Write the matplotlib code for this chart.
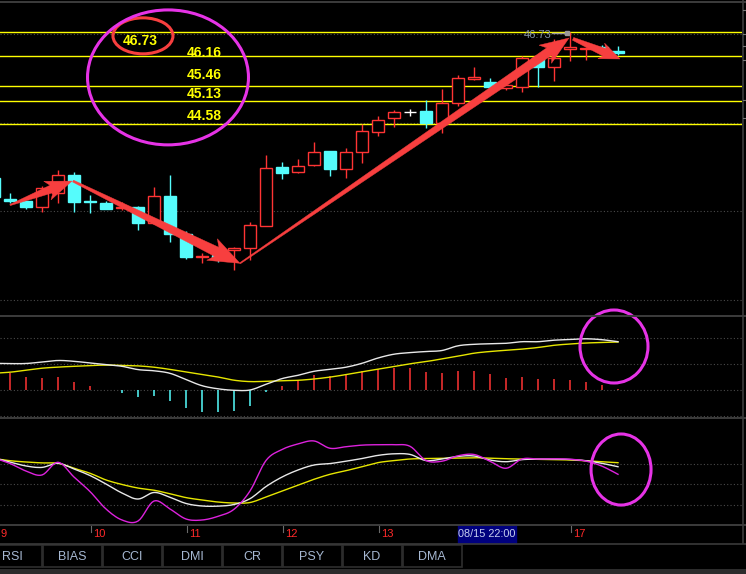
import numpy as np
import matplotlib
matplotlib.use('Agg')
import matplotlib.pyplot as plt
from matplotlib.patches import Rectangle, Ellipse, Polygon
from matplotlib.transforms import blended_transform_factory

plt.rcParams['font.family'] = ['Liberation Sans', 'DejaVu Sans']

# 4h candles, bar index -1 .. 38
bars = np.arange(-1, 39)
opens = [43.32, 42.83, 42.78, 42.64, 42.97, 43.39, 42.78, 42.74, 42.62, 42.64,
         42.27, 42.90, 42.01, 41.47, 41.52, 41.64, 41.68, 42.20, 43.58, 43.46,
         43.62, 43.95, 43.53, 43.93, 44.39, 44.72, 44.86, 44.88, 44.60, 45.07,
         45.63, 45.56, 45.42, 45.45, 46.12, 45.91, 46.33, 46.33, 46.38, 46.29]
highs = [43.39, 42.97, 42.78, 43.13, 43.51, 43.46, 42.92, 42.78, 42.76, 42.67,
         43.11, 43.39, 42.08, 41.57, 41.59, 41.71, 42.29, 43.86, 43.69, 43.76,
         44.16, 43.95, 44.02, 44.58, 44.77, 44.91, 44.93, 45.14, 45.40, 45.73,
         45.91, 45.66, 45.56, 46.17, 46.19, 46.57, 46.73, 46.38, 46.43, 46.40]
lows = [42.81, 42.74, 42.60, 42.53, 42.74, 42.53, 42.50, 42.60, 42.57, 42.10,
        42.24, 41.82, 41.43, 41.33, 41.36, 41.17, 41.40, 42.20, 43.30, 43.44,
        43.60, 43.37, 43.32, 43.67, 44.30, 44.51, 44.77, 44.49, 44.37, 45.00,
        45.61, 45.45, 45.38, 45.33, 45.45, 45.59, 46.05, 46.08, 46.26, 46.19]
closes = [42.88, 42.78, 42.64, 43.09, 43.39, 42.76, 42.76, 42.60, 42.64, 42.27,
          42.90, 42.01, 41.47, 41.50, 41.45, 41.68, 42.22, 43.55, 43.44, 43.60,
          43.93, 43.53, 43.93, 44.42, 44.67, 44.86, 44.86, 44.60, 45.07, 45.66,
          45.68, 45.45, 45.49, 46.12, 45.91, 46.12, 46.38, 46.36, 46.31, 46.24]

# MACD
dif = [0.267, 0.264, 0.265, 0.280, 0.295, 0.287, 0.270, 0.254, 0.237, 0.204,
       0.192, 0.167, 0.104, 0.043, 0.012, -0.003, 0.000, 0.057, 0.114, 0.147,
       0.187, 0.207, 0.228, 0.267, 0.320, 0.358, 0.374, 0.385, 0.395, 0.442,
       0.457, 0.462, 0.467, 0.483, 0.483, 0.498, 0.505, 0.512, 0.503, 0.483]
dea = [0.168, 0.178, 0.198, 0.218, 0.229, 0.237, 0.245, 0.249, 0.246, 0.241,
       0.228, 0.206, 0.180, 0.154, 0.130, 0.098, 0.084, 0.087, 0.093, 0.097,
       0.110, 0.129, 0.154, 0.182, 0.208, 0.235, 0.262, 0.284, 0.311, 0.338,
       0.368, 0.385, 0.397, 0.409, 0.425, 0.447, 0.460, 0.470, 0.475, 0.480]
macd_hist = [0.200, 0.173, 0.130, 0.120, 0.130, 0.080, 0.040, 0.003, -0.027, -0.067,
             -0.057, -0.107, -0.177, -0.217, -0.217, -0.207, -0.157, -0.017, 0.040, 0.100,
             0.150, 0.140, 0.160, 0.190, 0.207, 0.223, 0.220, 0.180, 0.170, 0.190,
             0.190, 0.160, 0.120, 0.130, 0.110, 0.110, 0.100, 0.080, 0.050, 0.010]

# KDJ
k_line = [88.1, 82.2, 76.4, 74.3, 80.3, 72.0, 62.4, 50.0, 36.8, 28.0,
          37.6, 30.5, 21.5, 17.8, 17.6, 20.0, 28.5, 46.3, 60.2, 70.5,
          77.8, 79.9, 83.4, 87.3, 91.9, 94.2, 93.3, 84.3, 86.6, 90.4,
          91.0, 85.1, 82.6, 85.7, 86.5, 86.5, 85.9, 84.1, 80.2, 75.3]
d_line = [87.3, 84.1, 82.2, 80.9, 80.3, 73.0, 65.7, 55.9, 49.3, 44.1,
          40.9, 35.7, 30.1, 26.6, 23.6, 22.2, 22.9, 31.0, 39.8, 48.5,
          56.9, 64.2, 69.5, 75.3, 81.3, 84.3, 86.6, 87.3, 87.6, 88.1,
          88.5, 87.8, 87.0, 86.6, 86.2, 85.7, 85.1, 84.0, 82.5, 81.2]
j_line = [88.1, 80.0, 69.0, 63.2, 81.8, 60.2, 39.0, 13.4, -2.7, -4.2,
          25.1, 13.4, -1.2, -2.7, 2.7, 13.0, 39.8, 84.4, 100.5, 108.6,
          113.0, 102.3, 104.6, 106.9, 107.5, 107.5, 105.2, 84.4, 83.4, 91.3,
          93.2, 83.4, 73.0, 86.6, 86.6, 86.9, 86.3, 83.5, 76.1, 64.2]

# drawn price lines and their labels
levels = [46.73, 46.16, 45.46, 45.13, 44.58]
level_text = ['46.73', '46.16', '45.46', '45.13', '44.58']
level_label_x = [8.125, 12.125, 12.125, 12.125, 12.125]
level_label_y = [46.52, 46.24, 45.73, 45.28, 44.77]

# hand-drawn arrows (bar index, price)
arrow_x0 = [0.0, 3.94, 14.375, 35.19]
arrow_p0 = [42.69, 43.25, 41.33, 46.57]
arrow_x1 = [3.875, 14.375, 34.94, 38.125]
arrow_p1 = [43.25, 41.33, 46.59, 46.10]

day_ticks = [-1, 5, 11, 17, 23, 29, 35]
day_labels = ['9', '10', '11', '12', '13', '', '17']
tabs = ['RSI', 'BIAS', 'CCI', 'DMI', 'CR', 'PSY', 'KD', 'DMA']

RED = '#ff3434'
CYAN = '#55fcfc'
ARROW = '#f73f3f'
MAGENTA = '#e633e6'
GRID = '#4a4a4a'
YELLOW = '#ffff00'


def smooth(xs, ys, steps=8):
    p = np.column_stack([xs, ys]).astype(float)
    p = np.vstack([p[0], p, p[-1]])
    t = np.linspace(0, 1, steps, endpoint=False)[:, None]
    out = []
    for i in range(1, len(p) - 2):
        p0, p1, p2, p3 = p[i - 1], p[i], p[i + 1], p[i + 2]
        out.append(0.5 * (2 * p1 + (-p0 + p2) * t + (2 * p0 - 5 * p1 + 4 * p2 - p3) * t ** 2
                          + (-p0 + 3 * p1 - 3 * p2 + p3) * t ** 3))
    out.append(p[-2][None, :])
    r = np.vstack(out)
    return r[:, 0], r[:, 1]


def wedge_arrow(ax, x0, y0, x1, y1, w0, w1, hw, hl):
    tr = ax.transData
    a = tr.transform((x0, y0))
    b = tr.transform((x1, y1))
    u = (b - a) / np.hypot(*(b - a))
    n = np.array([-u[1], u[0]])
    base = b - u * hl
    barb = b - u * hl * 1.2
    pts = [a + n * w0 / 2, base + n * w1 / 2, barb + n * hw / 2, b,
           barb - n * hw / 2, base - n * w1 / 2, a - n * w0 / 2]
    ax.add_patch(Polygon(tr.inverted().transform(pts), closed=True,
                         facecolor=ARROW, edgecolor=ARROW, lw=0.3, zorder=6))


W, H = 746, 574
fig = plt.figure(figsize=(W / 100, H / 100), dpi=100, facecolor='black')


def panel(top, bottom):
    ax = fig.add_axes([0, 1 - bottom / H, 742 / W, (bottom - top) / H])
    ax.set_facecolor('none')
    ax.set_xlim(-0.625, 45.75)
    ax.set_axis_off()
    return ax


ax = panel(2, 316)
ax_macd = panel(316, 418)
ax_kdj = panel(418, 525)
ax.set_ylim(40.10, 47.43)
ax_macd.set_ylim(-0.28, 0.74)
ax_kdj.set_ylim(-10.0, 146.6)

# ---- price panel
for g in [40.47, 42.54, 44.60, 46.69]:
    ax.axhline(g, color=GRID, lw=0.8, ls=(0, (1, 2)), zorder=1)
for lv in levels:
    ax.axhline(lv, color=YELLOW, lw=1.0, zorder=2)
for s, lx, ly in zip(level_text, level_label_x, level_label_y):
    ax.text(lx, ly, s, color=YELLOW, fontsize=10, fontweight='bold',
            ha='center', va='center', zorder=3)

bw = 0.78
for xi, o, h, l, c in zip(bars, opens, highs, lows, closes):
    if c > o:
        col, face = RED, 'black'
    elif c < o:
        col, face = CYAN, CYAN
    else:
        col, face = '#ffffff', '#ffffff'
    top, bot = max(o, c), min(o, c)
    ax.vlines(xi, top, h, color=col, lw=1.0, zorder=3)
    ax.vlines(xi, l, bot, color=col, lw=1.0, zorder=3)
    ax.add_patch(Rectangle((xi - bw / 2, bot), bw, max(top - bot, 0.012),
                           facecolor=face, edgecolor=col, lw=1.0, zorder=4))

# max price marker
imax = int(np.argmax(highs))
ax.plot([bars[imax] - 1.1, bars[imax] - 0.2], [highs[imax] - 0.02] * 2,
        color='#9a9a9a', lw=1.0, zorder=5)
ax.plot(bars[imax] - 0.2, highs[imax] - 0.02, 's', color='#9a9a9a', ms=3, zorder=5)
ax.text(bars[imax] - 1.13, highs[imax] - 0.07, f'{highs[imax]:.2f}', color='#8494a8',
        fontsize=8, ha='right', va='center', zorder=5)

for x0, p0, x1, p1, w0, w1, hw, hl in zip(arrow_x0, arrow_p0, arrow_x1, arrow_p1,
                                          [1.2, 2, 1.2, 3], [8, 10, 9, 8],
                                          [20, 24, 22, 17], [22, 26, 24, 17]):
    wedge_arrow(ax, x0, p0, x1, p1, w0, w1, hw, hl)

ax.add_patch(Ellipse((8.31, 46.64), 3.75, 0.84, fill=False, edgecolor=ARROW,
                     lw=2.2, zorder=7, clip_on=False))
ax.add_patch(Ellipse((9.875, 45.67), 10.06, 3.15, fill=False, edgecolor=MAGENTA,
                     lw=2.2, zorder=7, clip_on=False))

# ---- MACD panel
for g in [0.52, 0.26, 0.0, -0.26]:
    ax_macd.axhline(g, color=GRID, lw=0.8, ls=(0, (1, 2)), zorder=1)
hist = np.array(macd_hist)
ax_macd.vlines(bars, 0, hist, colors=np.where(hist >= 0, RED, CYAN), lw=1.1, zorder=2)
sx, sy = smooth(bars, dea)
ax_macd.plot(sx, sy, color='#e6e600', lw=1.0, zorder=3)
sx, sy = smooth(bars, dif)
ax_macd.plot(sx, sy, color='#e8e8e8', lw=1.0, zorder=4)
ax_macd.add_patch(Ellipse((37.75, 0.435), 4.25, 0.73, fill=False, edgecolor=MAGENTA,
                          lw=2.2, zorder=7, clip_on=False))

# ---- KDJ panel
for g in [80, 50, 20]:
    ax_kdj.axhline(g, color=GRID, lw=0.8, ls=(0, (1, 2)), zorder=1)
for vals, col, z in [(d_line, '#e6e600', 3), (k_line, '#e8e8e8', 4), (j_line, '#dd22dd', 5)]:
    sx, sy = smooth(bars, vals)
    ax_kdj.plot(sx, sy, color=col, lw=1.0, zorder=z)
ax_kdj.add_patch(Ellipse((38.19, 71.2), 3.75, 104, fill=False, edgecolor=MAGENTA,
                         lw=2.2, zorder=7, clip_on=False))

# date axis under KDJ
bt = blended_transform_factory(ax_kdj.transData, ax_kdj.transAxes)
for t, lab in zip(day_ticks, day_labels):
    ax_kdj.plot([t + 0.06, t + 0.06], [0, -7 / 107], color='#6a6a6a', lw=0.8,
                transform=bt, clip_on=False)
    if lab:
        ax_kdj.text(max(t + 0.2, -0.6), -9 / 107, lab, color='#ff2a2a', fontsize=8,
                    ha='left', va='center', transform=bt, clip_on=False)
ax_kdj.add_patch(Rectangle((28.0, -18 / 107), 3.62, 18 / 107, facecolor='#00007e',
                           edgecolor='#00007e', transform=bt, clip_on=False, zorder=8))
ax_kdj.text(29.81, -9 / 107, '08/15 22:00', color='#c8d0f0', fontsize=7.8,
            ha='center', va='center', transform=bt, clip_on=False, zorder=9)

# ---- window chrome (pixel space)
ui = fig.add_axes([0, 0, 1, 1], zorder=10)
ui.set_facecolor('none')
ui.set_xlim(0, W)
ui.set_ylim(H, 0)
ui.set_axis_off()
for yy in [1.5, 316, 418, 525]:
    ui.plot([0, W], [yy, yy], color='#3c3c3c', lw=1.4)
ui.plot([0, W], [543.5, 543.5], color='#3a3a3a', lw=1.2)
ui.plot([742.5, 742.5], [0, 543], color='#3c3c3c', lw=1.2)
for yy in [10, 34, 46, 60, 100, 118]:
    ui.plot([742.5, 746], [yy, yy], color='#777777', lw=0.8)
for i, name in enumerate(tabs):
    left = -18 + 60 * i
    ui.add_patch(Rectangle((left + 0.5, 545), 59, 22, facecolor='black',
                           edgecolor='#2e2e2e', lw=1.2))
    ui.text(left + 30, 556.5, name, color='#a6b8d2', fontsize=9,
            ha='center', va='center')
ui.add_patch(Rectangle((0, 569), W, 5, facecolor='#2c2c2c', edgecolor='none'))

fig.savefig('out.png', dpi=100, facecolor='black')
